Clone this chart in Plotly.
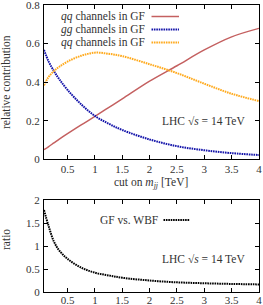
import plotly.graph_objects as go

# ---- data ----
cut_mjj = [0.07, 0.15, 0.25, 0.35, 0.5, 0.75, 1.0, 1.25, 1.5, 2.0, 2.5, 3.0, 3.5, 4.0]
qq_gf = [0.05, 0.065, 0.085, 0.105, 0.133, 0.178, 0.222, 0.268, 0.313, 0.405, 0.485, 0.567, 0.635, 0.679]
gg_gf = [0.567, 0.51, 0.458, 0.415, 0.36, 0.285, 0.225, 0.185, 0.152, 0.103, 0.068, 0.047, 0.032, 0.022]
qg_gf = [0.383, 0.425, 0.457, 0.48, 0.507, 0.537, 0.553, 0.547, 0.535, 0.493, 0.447, 0.392, 0.34, 0.302]
ratio = [1.78, 1.45, 1.1, 0.9, 0.72, 0.53, 0.42, 0.36, 0.31, 0.25, 0.21, 0.19, 0.175, 0.165]

x_ticks = [0.5, 1, 1.5, 2, 2.5, 3, 3.5, 4]
x_ticklabels = ["0.5", "1", "1.5", "2", "2.5", "3", "3.5", "4"]
top_y_ticks = [0, 0.2, 0.4, 0.6, 0.8]
top_y_ticklabels = ["0", "0.2", "0.4", "0.6", "0.8"]
bot_y_ticks = [0, 0.5, 1, 1.5, 2]
bot_y_ticklabels = ["0", "0.5", "1", "1.5", "2"]

series_names = ["<i>qq</i> channels in GF", "<i>gg</i> channels in GF", "<i>qq</i> channels in GF"]
ratio_name = "GF vs. WBF"

RED = "rgb(196,96,96)"
BLUE = "rgb(20,20,170)"
ORANGE = "rgb(255,170,30)"
BLACK = "black"
FONT = "Liberation Serif"
TXT = "#333333"
DOT = "1.6px,0.8px"
FS = 11
FS_LEG = 11.5

W, H = 263, 305
ML, MR, MT, MB = 44, 4, 5, 13
PW, PH = W - ML - MR, H - MT - MB


def px_x(p):
    return (p - ML) / PW


def px_y(p):
    return (H - MB - p) / PH


fig = go.Figure()
styles = [
    (qq_gf, RED, "solid", 1.5),
    (gg_gf, BLUE, DOT, 2),
    (qg_gf, ORANGE, DOT, 2),
]
for (vals, col, dash, w), name in zip(styles, series_names):
    fig.add_trace(go.Scatter(x=cut_mjj, y=vals, mode="lines", name=name,
                             line=dict(color=col, dash=dash, width=w, shape="spline"),
                             xaxis="x", yaxis="y", showlegend=False))
fig.add_trace(go.Scatter(x=cut_mjj, y=ratio, mode="lines", name=ratio_name,
                         line=dict(color=BLACK, dash=DOT, width=2, shape="spline"),
                         xaxis="x2", yaxis="y2", showlegend=False))

axis_common = dict(showline=True, linecolor="black", linewidth=1, mirror="allticks",
                   ticks="inside", ticklen=4, tickcolor="black", showgrid=False,
                   zeroline=False, ticklabeloverflow="allow", automargin=False,
                   tickfont=dict(family=FONT, size=FS, color=TXT))

top_bottom = px_y(159.3)
bot_top = px_y(200)

fig.update_layout(
    width=W, height=H,
    margin=dict(l=ML, r=MR, t=MT, b=MB),
    paper_bgcolor="white", plot_bgcolor="white",
    font=dict(family=FONT, size=FS, color=TXT),
    xaxis=dict(domain=[0, 1], range=[0.07, 4.0001], anchor="y",
               tickvals=x_ticks, ticktext=x_ticklabels, ticklabelstandoff=-1, **axis_common),
    yaxis=dict(domain=[top_bottom, 1], range=[0, 0.8001], anchor="x",
               tickvals=top_y_ticks, ticktext=top_y_ticklabels, ticklabelstandoff=1, **axis_common),
    xaxis2=dict(domain=[0, 1], range=[0.07, 4.0001], anchor="y2",
                tickvals=x_ticks, ticktext=x_ticklabels, ticklabelstandoff=-2, **axis_common),
    yaxis2=dict(domain=[0, bot_top], range=[0, 2.0001], anchor="x2",
                tickvals=bot_y_ticks, ticktext=bot_y_ticklabels, ticklabelstandoff=1, **axis_common),
)

annos = []
shapes = []
# legend of top panel (text right-aligned, sample to the right)
leg_y = [16.5, 29.5, 42.5]
for (vals, col, dash, w), name, yy in zip(styles, series_names, leg_y):
    annos.append(dict(x=px_x(147), y=px_y(yy), xref="paper", yref="paper", text=name,
                      showarrow=False, xanchor="right", yanchor="middle",
                      font=dict(family=FONT, size=FS_LEG, color=TXT)))
    shapes.append(dict(type="line", xref="paper", yref="paper",
                       x0=px_x(151.5), x1=px_x(179), y0=px_y(yy), y1=px_y(yy),
                       line=dict(color=col, dash=dash, width=w)))
# legend of bottom panel
annos.append(dict(x=px_x(160), y=px_y(220), xref="paper", yref="paper", text=ratio_name,
                  showarrow=False, xanchor="right", yanchor="middle",
                  font=dict(family=FONT, size=FS_LEG, color=TXT)))
shapes.append(dict(type="line", xref="paper", yref="paper",
                   x0=px_x(163.5), x1=px_x(190), y0=px_y(220), y1=px_y(220),
                   line=dict(color=BLACK, dash=DOT, width=2)))
# LHC labels
for yy in [120.5, 259]:
    annos.append(dict(x=px_x(247), y=px_y(yy), xref="paper", yref="paper",
                      text="LHC √<i>s</i> = 14 TeV",
                      showarrow=False, xanchor="right", yanchor="middle",
                      font=dict(family=FONT, size=FS_LEG, color=TXT)))
# axis titles
annos.append(dict(x=px_x(151), y=px_y(183), xref="paper", yref="paper",
                  text="cut on <i>m<sub>jj</sub></i> [TeV]", showarrow=False,
                  xanchor="center", yanchor="middle",
                  font=dict(family=FONT, size=FS_LEG, color=TXT)))
annos.append(dict(x=px_x(6), y=px_y(82), xref="paper", yref="paper",
                  text="relative contribution", showarrow=False, textangle=-90,
                  xanchor="center", yanchor="middle",
                  font=dict(family=FONT, size=FS_LEG, color=TXT)))
annos.append(dict(x=px_x(6), y=px_y(240), xref="paper", yref="paper",
                  text="ratio", showarrow=False, textangle=-90,
                  xanchor="center", yanchor="middle",
                  font=dict(family=FONT, size=FS_LEG, color=TXT)))

fig.update_layout(annotations=annos, shapes=shapes)
fig.write_html("out.html", config={"displayModeBar": False},
               post_script="document.body.style.margin='0';")
